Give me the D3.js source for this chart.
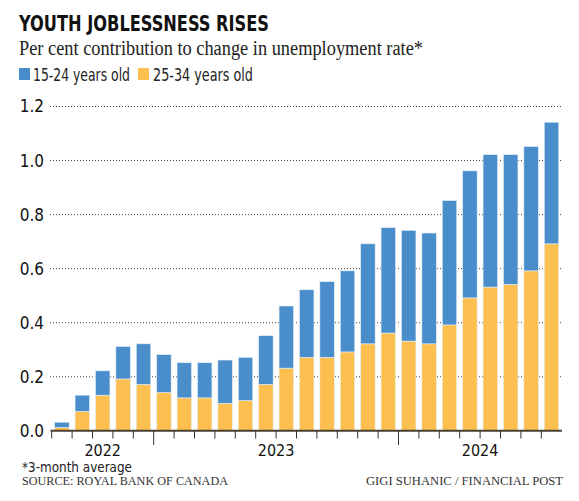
<!DOCTYPE html>
<html>
<head>
<meta charset="utf-8">
<script src="https://cdn.jsdelivr.net/npm/d3@7"></script>
<style>
  html, body { margin: 0; padding: 0; background: #fff; }
  svg { display: block; }
</style>
</head>
<body>
<svg id="chart" width="579" height="501"></svg>
<script>
// ---- Data ----
const months = ["2022-08","2022-09","2022-10","2022-11","2022-12",
  "2023-01","2023-02","2023-03","2023-04","2023-05","2023-06","2023-07","2023-08","2023-09","2023-10","2023-11","2023-12",
  "2024-01","2024-02","2024-03","2024-04","2024-05","2024-06","2024-07","2024-08"];
const age15to24 = [0.02,0.06,0.09,0.12,0.15,0.14,0.13,0.13,0.16,0.16,0.18,0.23,0.25,0.28,0.30,0.37,0.39,0.41,0.41,0.46,0.47,0.49,0.48,0.46,0.45];
const age25to34 = [0.01,0.07,0.13,0.19,0.17,0.14,0.12,0.12,0.10,0.11,0.17,0.23,0.27,0.27,0.29,0.32,0.36,0.33,0.32,0.39,0.49,0.53,0.54,0.59,0.69];
const seriesNames = ["15-24 years old","25-34 years old"];
const yTicks = [0,0.2,0.4,0.6,0.8,1.0,1.2];
const yearLabels = ["2022","2023","2024"];

const colors = {"25-34 years old":"#fdbf4f","15-24 years old":"#4a8dcb"};

const svg = d3.select("#chart");
const condensed = "'Liberation Sans Narrow','DejaVu Sans Condensed','Roboto Condensed',Roboto,sans-serif";
const serif = "'Liberation Serif','DejaVu Serif',serif";

// Title block
svg.append("text").attr("x",19).attr("y",31)
  .attr("font-family",condensed).attr("font-weight","bold").attr("font-size",21.5)
  .attr("fill","#111").attr("textLength",250).attr("lengthAdjust","spacingAndGlyphs")
  .text("YOUTH JOBLESSNESS RISES");
svg.append("text").attr("x",19).attr("y",55)
  .attr("font-family",serif).attr("font-size",20)
  .attr("fill","#222").attr("textLength",404).attr("lengthAdjust","spacingAndGlyphs")
  .text("Per cent contribution to change in unemployment rate*");

// Legend
const legend = [
  {name: seriesNames[0], sx: 19, tx: 33, tw: 97},
  {name: seriesNames[1], sx: 138, tx: 153, tw: 100}
];
legend.forEach(l => {
  svg.append("rect").attr("x",l.sx).attr("y",68).attr("width",11).attr("height",12).attr("fill",colors[l.name]);
  svg.append("text").attr("x",l.tx).attr("y",81)
    .attr("font-family",condensed).attr("font-size",17).attr("fill","#222")
    .attr("textLength",l.tw).attr("lengthAdjust","spacingAndGlyphs")
    .text(l.name);
});

// Scales
const x = d3.scaleBand().domain(months).range([51.7,561.7]).paddingInner(0.29).paddingOuter(0.145);
const y = d3.scaleLinear().domain([0,1.2]).range([430.3,106]);

// Grid
svg.append("g").selectAll("line").data(yTicks.filter(d=>d>0)).join("line")
  .attr("x1",50).attr("x2",561).attr("y1",d=>y(d)+0.5).attr("y2",d=>y(d)+0.5)
  .attr("stroke","#444").attr("stroke-width",1).attr("stroke-dasharray","1,2");

// Y labels
const yAxis = d3.axisLeft(y).tickValues(yTicks).tickFormat(d3.format(".1f")).tickSize(0).tickPadding(0);
const yg = svg.append("g").attr("transform","translate(44,0)").call(yAxis);
yg.select(".domain").remove();
yg.selectAll("text").attr("font-family",condensed).attr("font-size",17).attr("fill","#111").attr("dy","0.35em");

// Stack
const table = months.map((m,i)=>({month:m,"15-24 years old":age15to24[i],"25-34 years old":age25to34[i]}));
const stack = d3.stack().keys([seriesNames[1],seriesNames[0]])(table);

svg.append("g").selectAll("g").data(stack).join("g")
  .attr("fill",d=>colors[d.key])
  .selectAll("rect").data(d=>d).join("rect")
  .attr("x",d=>x(d.data.month))
  .attr("width",x.bandwidth())
  .attr("y",d=>y(d[1]))
  .attr("height",d=>y(d[0])-y(d[1]))
  .attr("stroke","#e4f0f6").attr("stroke-width",0.6);

// X axis line & ticks
const step = x.step();
const tickPos = months.map(m => x(m) - step*x.paddingInner()/2);
svg.append("line").attr("x1",50.5).attr("x2",562).attr("y1",430.8).attr("y2",430.8)
  .attr("stroke","#4a4030").attr("stroke-width",2);
svg.append("g").selectAll("line").data(months).join("line")
  .attr("x1",(m,i)=>tickPos[i]).attr("x2",(m,i)=>tickPos[i])
  .attr("y1",431).attr("y2",m => m.endsWith("-01") ? 445 : 438.5)
  .attr("stroke","#333").attr("stroke-width",1);

// Year labels centered on their months
yearLabels.forEach(yr => {
  const ms = months.filter(m=>m.startsWith(yr));
  const x0 = x(ms[0]) - step*x.paddingInner()/2;
  const x1 = ms[ms.length-1] === months[months.length-1] ? 561.7 : x(ms[ms.length-1]) + x.bandwidth() + step*x.paddingInner()/2;
  svg.append("text").attr("x",(x0+x1)/2).attr("y",456).attr("text-anchor","middle")
    .attr("font-family",condensed).attr("font-size",16).attr("fill","#111").text(yr);
});

// Footer
svg.append("text").attr("x",22).attr("y",472)
  .attr("font-family",condensed).attr("font-size",14).attr("fill","#222")
  .attr("textLength",110).attr("lengthAdjust","spacingAndGlyphs")
  .text("*3-month average");
svg.append("text").attr("x",22).attr("y",485)
  .attr("font-family",serif).attr("font-size",12).attr("fill","#333")
  .attr("textLength",206).attr("lengthAdjust","spacingAndGlyphs")
  .text("SOURCE: ROYAL BANK OF CANADA");
svg.append("text").attr("x",563).attr("y",485).attr("text-anchor","end")
  .attr("font-family",serif).attr("font-size",12).attr("fill","#333")
  .attr("textLength",197).attr("lengthAdjust","spacingAndGlyphs")
  .text("GIGI SUHANIC / FINANCIAL POST");
</script>
</body>
</html>
